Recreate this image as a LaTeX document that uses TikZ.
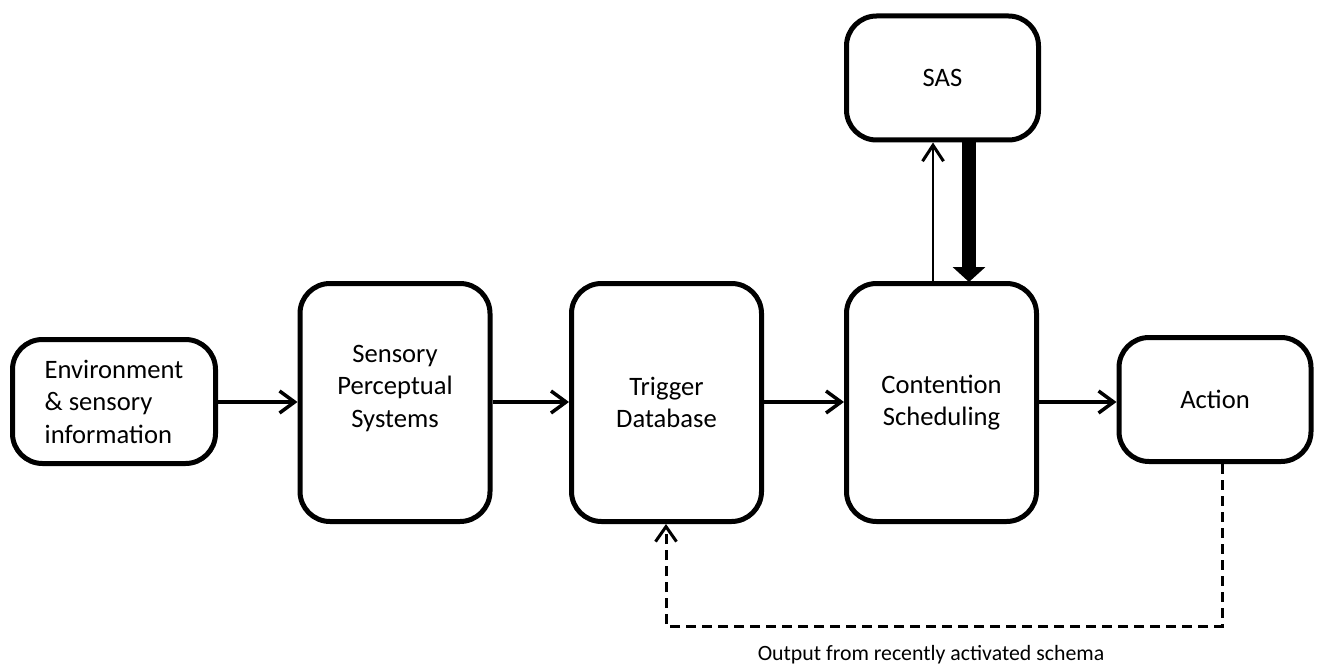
\documentclass[tikz,border=0pt]{standalone}
\usepackage{fontspec}
\setmainfont{Carlito}
\usetikzlibrary{arrows.meta,calc}
\tikzset{
  box/.style={draw, line width=5pt, rounded corners=30pt, inner sep=0pt,
    align=center, font=\fontsize{26.6}{32.5}\selectfont},
  bigbox/.style={box, minimum width=190pt, minimum height=238pt},
  smallbox/.style={box, minimum width=192pt, minimum height=124pt},
  conn/.style={line width=3.5pt, -{Straight Barb[length=15pt,width=22pt,line width=3.5pt]}},
  thinconn/.style={line width=2.5pt, -{Straight Barb[length=16pt,width=21pt,line width=3pt]}},
  thickconn/.style={line width=14pt, -{Triangle[length=15pt,width=32pt]}, shorten >=-1pt},
  fbconn/.style={line width=3pt, dash pattern=on 10pt off 6pt, -{Straight Barb[length=15pt,width=21pt,line width=3pt]}}
}
\begin{document}
\begin{tikzpicture}[x=1pt,y=-1pt]
\useasboundingbox (0,0) rectangle (1321,668);
\node[box, minimum width=203pt, minimum height=124pt, align=left] (env) at (114,401.5) {Environment\\\& sensory\\information};
\node[bigbox] (sps) at (395,402.5) {Sensory\\Perceptual\\Systems\\\mbox{}};
\node[bigbox] (tdb) at (666.5,402.5) {Trigger\\Database};
\node[bigbox] (cs) at (941.5,402.5) {Contention\\Scheduling};
\node[smallbox] (act) at (1215,399.5) {Action};
\node[smallbox] (sas) at (942.5,78) {SAS};
\coordinate (fb) at (666,626);
\draw[conn] (env.east |- 0,402) -- (sps.west |- 0,402);
\draw[conn] (sps.east |- 0,402) -- (tdb.west |- 0,402);
\draw[conn] (tdb.east |- 0,402) -- (cs.west |- 0,402);
\draw[conn] (cs.east |- 0,402) -- (act.west |- 0,402);
\draw[thinconn] (cs.north -| 933,0) -- (sas.south -| 933,0);
\draw[thickconn] (sas.south -| 969,0) -- (cs.north -| 969,0);
\draw[fbconn] (act.south -| 1222,0) -- (fb -| 1222,0) -- (fb) -- (tdb.south -| fb);
\node[font=\fontsize{21.8}{26}\selectfont] (lbl) at (931,655) {Output from recently activated schema};
\end{tikzpicture}
\end{document}
